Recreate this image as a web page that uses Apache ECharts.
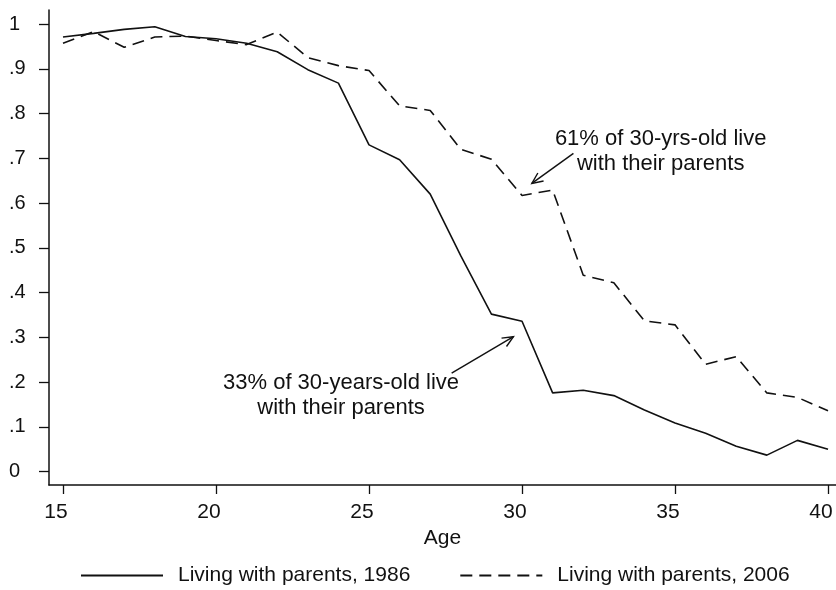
<!DOCTYPE html>
<html>
<head>
<meta charset="utf-8">
<script src="https://cdn.jsdelivr.net/npm/echarts@6/dist/echarts.min.js"></script>
<style>
html,body{margin:0;padding:0;background:#fff;}
#chart{width:836px;height:590px;}
</style>
</head>
<body>
<div id="chart"></div>
<script>
// ---- data ----
const ages = [15,16,17,18,19,20,21,22,23,24,25,26,27,28,29,30,31,32,33,34,35,36,37,38,39,40];
const living1986 = [0.971,0.979,0.988,0.994,0.972,0.967,0.957,0.938,0.898,0.868,0.730,0.697,0.620,0.482,0.352,0.336,0.176,0.182,0.170,0.138,0.109,0.086,0.057,0.037,0.070,0.050];
const living2006 = [0.957,0.983,0.948,0.971,0.973,0.963,0.954,0.982,0.925,0.907,0.896,0.817,0.807,0.720,0.698,0.617,0.629,0.439,0.422,0.337,0.328,0.240,0.257,0.176,0.166,0.136];
const seriesNames = ['Living with parents, 1986', 'Living with parents, 2006'];
const xTickValues = [15,20,25,30,35,40];
const xTickLabels = ['15','20','25','30','35','40'];
const yTickValues = [0,0.1,0.2,0.3,0.4,0.5,0.6,0.7,0.8,0.9,1];
const yTickLabels = ['0','.1','.2','.3','.4','.5','.6','.7','.8','.9','1'];
const note2006 = '61% of 30-yrs-old live\nwith their parents';
const note1986 = '33% of 30-years-old live\nwith their parents';

// annotation anchors in data space
const note2006Pos = [34.53, 0.716];
const note1986Pos = [24.085, 0.170];
const arrow2006 = {from:[31.68, 0.711], to:[30.32, 0.644]};
const arrow1986 = {from:[27.70, 0.220], to:[29.72, 0.3015]};

const FONT = "'Liberation Sans', Arial, Helvetica, sans-serif";
const INK = '#111';

const chart = echarts.init(document.getElementById('chart'), null, {renderer:'canvas'});

function pairs(vals){ return ages.map((a,i)=>[a, vals[i]]); }

const option = {
  backgroundColor:'#fff',
  animation:false,
  grid:{left:49, top:10, right:0, bottom:105, containLabel:false},
  xAxis:{
    type:'value', min:14.5425, max:40.26,
    name:'Age', nameLocation:'middle', nameGap:38,
    nameTextStyle:{color:INK, fontFamily:FONT, fontSize:21},
    axisLine:{show:true, onZero:false, lineStyle:{color:INK, width:1.5}},
    axisTick:{show:true, length:9, customValues:xTickValues, lineStyle:{color:INK, width:1.3}},
    axisLabel:{show:true, customValues:xTickValues, margin:17, color:INK, fontFamily:FONT, fontSize:21,
      padding:[0,14,0,0],
      formatter:(v)=>{const i=xTickValues.indexOf(v); return i>=0?xTickLabels[i]:'';}},
    splitLine:{show:false}
  },
  yAxis:{
    type:'value', min:-0.0297, max:1.0313,
    axisLine:{show:true, onZero:false, lineStyle:{color:INK, width:1.5}},
    axisTick:{show:true, length:10, customValues:yTickValues, lineStyle:{color:INK, width:1.3}},
    axisLabel:{show:true, customValues:yTickValues, margin:40, align:'left', color:INK, fontFamily:FONT, fontSize:20,
      formatter:(v)=>{let i=-1; yTickValues.forEach((t,k)=>{if(Math.abs(t-v)<1e-6)i=k;}); return i>=0?yTickLabels[i]:'';}},
    splitLine:{show:false}
  },
  legend:{
    show:true, top:565, left:80, padding:0,
    itemWidth:82, itemHeight:2, itemGap:49,
    itemStyle:{color:'transparent', borderColor:'transparent', borderWidth:0, opacity:0},
    textStyle:{color:INK, fontFamily:FONT, fontSize:21, padding:[0,0,0,10]},
    data:seriesNames
  },
  series:[
    {name:seriesNames[0], type:'line', data:pairs(living1986), symbol:'none', showSymbol:false,
     lineStyle:{color:INK, width:1.6, type:'solid'}, itemStyle:{color:INK}},
    {name:seriesNames[1], type:'line', data:pairs(living2006), symbol:'none', showSymbol:false,
     lineStyle:{color:INK, width:1.6, type:[12,7]}, itemStyle:{color:INK}}
  ]
};
chart.setOption(option);

function px(p){ return chart.convertToPixel({gridIndex:0}, p); }
function arrowGraphics(a){
  const s = px(a.from), e = px(a.to);
  const ang = Math.atan2(s[1]-e[1], s[0]-e[0]);
  const L = 12, th = 24*Math.PI/180;
  const p1 = [e[0]+L*Math.cos(ang+th), e[1]+L*Math.sin(ang+th)];
  const p2 = [e[0]+L*Math.cos(ang-th), e[1]+L*Math.sin(ang-th)];
  return [
    {type:'line', shape:{x1:s[0], y1:s[1], x2:e[0], y2:e[1]}, style:{stroke:INK, lineWidth:1.4}, silent:true},
    {type:'polyline', shape:{points:[p1, e, p2]}, style:{stroke:INK, lineWidth:1.4, fill:null}, silent:true}
  ];
}
function noteGraphic(text, pos){
  const p = px(pos);
  return {type:'text', x:p[0], y:p[1], silent:true,
    style:{text:text, fill:INK, fontFamily:FONT, fontSize:22, lineHeight:25, align:'center', verticalAlign:'middle'}};
}
chart.setOption({graphic:[
  ...arrowGraphics(arrow2006),
  ...arrowGraphics(arrow1986),
  noteGraphic(note2006, note2006Pos),
  noteGraphic(note1986, note1986Pos)
]});
</script>
</body>
</html>
